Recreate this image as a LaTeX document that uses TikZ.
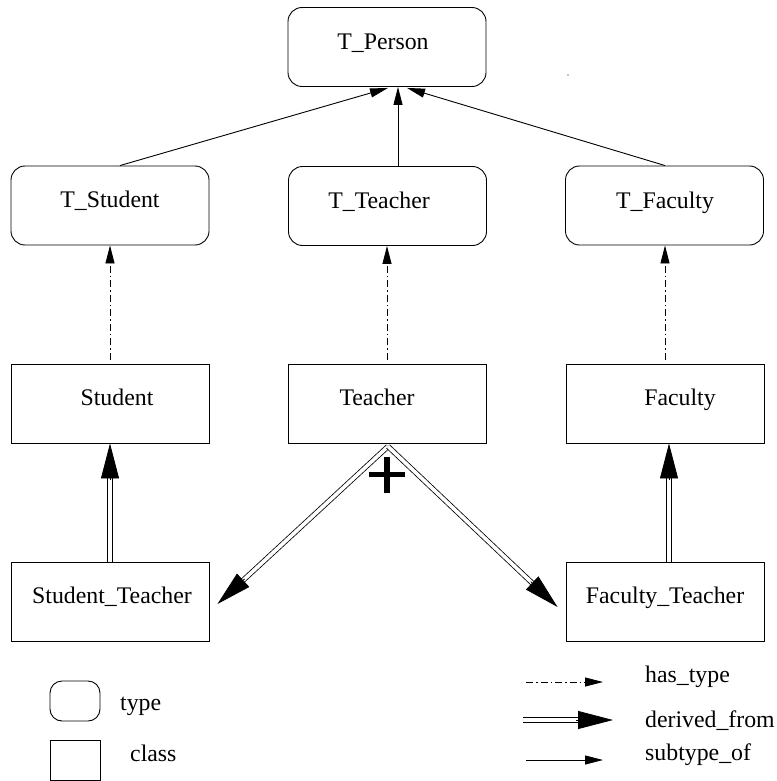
\documentclass[tikz,border=0pt]{standalone}
\usepackage{fontspec}
\setmainfont{Liberation Serif}
\usetikzlibrary{arrows.meta,calc}
\begin{document}
\begin{tikzpicture}[x=1pt,y=-1pt,
  typebox/.style={draw, line width=.9pt, rounded corners=14pt, minimum width=198pt, minimum height=79pt, inner sep=0pt},
  classbox/.style={draw, line width=.9pt, minimum width=198pt, minimum height=79pt, inner sep=0pt},
  lbl/.style={font=\fontsize{23.8}{28}\selectfont, inner sep=0pt, anchor=base},
  lblw/.style={lbl, anchor=base west},
  subarrow/.style={line width=.9pt, -{Triangle[length=18pt,width=9pt]}},
  hasarrow/.style={subarrow, dash pattern=on 7pt off 3pt on 1.5pt off 3pt},
  derivedline/.style={double, double distance=3.6pt, line width=.8pt},
  derivedhead/.style={line width=.8pt, -{Triangle[length=35pt,width=18pt]}}
]
\useasboundingbox (0,0) rectangle (776,781);

% type boxes
\node[typebox] (tperson)  at (387,47) {};
\node[typebox] (tstudent) at (110,205.5) {};
\node[typebox] (tteacher) at (387.5,206) {};
\node[typebox] (tfaculty) at (664.5,205.5) {};
% class boxes
\node[classbox] (student) at (110,403.5) {};
\node[classbox] (teacher) at (387.5,403.5) {};
\node[classbox] (faculty) at (665,403.5) {};
\node[classbox] (stteacher) at (110,601.5) {};
\node[classbox] (ftteacher) at (665,601.5) {};

% labels
\node[lbl] (ltperson)  at (383,50)  {T\_Person};
\node[lbl] (ltstudent) at (110,207) {T\_Student};
\node[lbl] (ltteacher) at (379,208) {T\_Teacher};
\node[lbl] (ltfaculty) at (665,208) {T\_Faculty};
\node[lbl] (lstudent)  at (117,405) {Student};
\node[lbl] (lteacher)  at (377,405) {Teacher};
\node[lbl] (lfaculty)  at (680,405) {Faculty};
\node[lbl] (lstteacher) at (112,603) {Student\_Teacher};
\node[lbl] (lftteacher) at (665,603) {Faculty\_Teacher};

% subtype_of arrows
\coordinate (sA) at ($(tstudent.north)+(10,0)$);
\coordinate (sB) at ($(tteacher.north)+(10.5,0)$);
\coordinate (sC) at ($(tfaculty.north)+(0.5,0)$);
\coordinate (tA) at ($(tperson.south)+(1,1)$);
\coordinate (tB) at ($(tperson.south)+(11,0)$);
\coordinate (tC) at ($(tperson.south)+(20,1)$);
\draw[subarrow] (sA) -- (tA);
\draw[subarrow] (sB) -- (tB);
\draw[subarrow] (sC) -- (tC);

% has_type arrows
\draw[hasarrow] ($(student.north)+(0,-4)$) -- (tstudent.south);
\draw[hasarrow] ($(teacher.north)+(-0.5,-4)$) -- ($(tteacher.south)+(-0.5,0)$);
\draw[hasarrow] ($(faculty.north)+(0,-4)$) -- ($(tfaculty.south)+(0.5,0)$);

% derived_from vertical
\draw[derivedline] (stteacher.north) -- ($(student.south)+(0,34)$);
\draw[derivedhead] ($(student.south)+(0,37)$) -- (student.south);
\coordinate (fB) at ($(faculty.south)+(4,0)$);
\draw[derivedline] ($(ftteacher.north)+(4,0)$) -- ($(fB)+(0,34)$);
\draw[derivedhead] ($(fB)+(0,37)$) -- (fB);

% derived_from diagonals
\coordinate (apex) at ($(teacher.south)+(0.5,3)$);
\coordinate (tipL) at ($(stteacher.east)+(8,2.5)$);
\coordinate (tipR) at ($(ftteacher.west)+(-8,5.5)$);
\draw[derivedline] (apex) -- ($(tipL)!33pt!(apex)$);
\draw[derivedhead] ($(tipL)!37pt!(apex)$) -- (tipL);
\draw[derivedline] (apex) -- ($(tipR)!33pt!(apex)$);
\draw[derivedhead] ($(tipR)!37pt!(apex)$) -- (tipR);

% plus sign
\coordinate (plus) at (387,474.5);
\draw[line width=5.3pt] ($(plus)+(-18.3,0)$) -- ($(plus)+(18.3,0)$);
\draw[line width=5.3pt] ($(plus)+(0,-18)$) -- ($(plus)+(0,18)$);

% stray dot
\fill (568,75) circle (0.7);

% legend
\node[draw, line width=.9pt, rounded corners=12pt, minimum width=50pt, minimum height=40pt, inner sep=0pt] (legtype) at (75,701) {};
\node[draw, line width=.9pt, minimum width=50pt, minimum height=40pt, inner sep=0pt] (legclass) at (75,760) {};
\node[lblw] (ltype) at (120,710) {type};
\node[lblw] (lclass) at (130,761) {class};

\coordinate (h1) at (526,682); \coordinate (h2) at (603,682);
\coordinate (d1) at (523,720); \coordinate (d2) at (613,720);
\coordinate (s1) at (526,760); \coordinate (s2) at (603,760);
\draw[hasarrow] (h1) -- (h2);
\draw[derivedline] (d1) -- ($(d2)+(-34,0)$);
\draw[derivedhead] ($(d2)+(-37,0)$) -- (d2);
\draw[subarrow] (s1) -- (s2);
\node[lblw] (lhas) at (645,682) {has\_type};
\node[lblw] (lder) at (645,727) {derived\_from};
\node[lblw] (lsub) at (645,760) {subtype\_of};
\end{tikzpicture}
\end{document}
